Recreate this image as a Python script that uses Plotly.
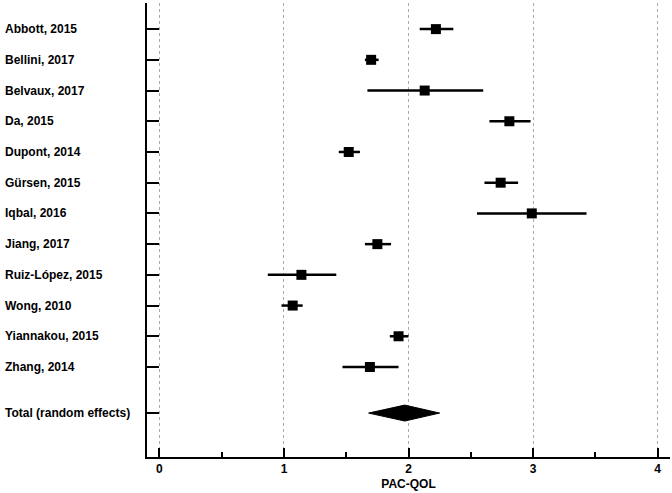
import plotly.graph_objects as go

# study data (PAC-QOL mean, 95% CI)
studies = ['Abbott, 2015', 'Bellini, 2017', 'Belvaux, 2017', 'Da, 2015',
           'Dupont, 2014', 'Gürsen, 2015', 'Iqbal, 2016', 'Jiang, 2017',
           'Ruiz-López, 2015', 'Wong, 2010', 'Yiannakou, 2015', 'Zhang, 2014']
est = [2.22, 1.70, 2.13, 2.81, 1.52, 2.74, 2.99, 1.75, 1.14, 1.07, 1.92, 1.69]
lo = [2.09, 1.65, 1.67, 2.65, 1.44, 2.61, 2.55, 1.65, 0.87, 0.98, 1.85, 1.47]
hi = [2.36, 1.76, 2.60, 2.98, 1.61, 2.88, 3.43, 1.86, 1.42, 1.15, 2.00, 1.92]

total_label = 'Total (random effects)'
total_est = 1.97
total_lo = 1.68
total_hi = 2.25

x_ticks = [0, 1, 2, 3, 4]

font_family = 'Liberation Sans, Arial, sans-serif'
rows = list(range(len(studies)))
total_row = len(studies) + 0.5

fig = go.Figure()

fig.add_trace(go.Scatter(
    x=est, y=rows, mode='markers',
    marker={'symbol': 'square', 'size': 10, 'color': 'black'},
    error_x={'type': 'data', 'symmetric': False,
             'array': [h - e for h, e in zip(hi, est)],
             'arrayminus': [e - l for e, l in zip(est, lo)],
             'color': 'black', 'thickness': 2.5, 'width': 0},
    showlegend=False, hoverinfo='skip',
))

# pooled estimate diamond
dh = 0.26
fig.add_trace(go.Scatter(
    x=[total_lo, total_est, total_hi, total_est, total_lo],
    y=[total_row, total_row - dh, total_row, total_row + dh, total_row],
    mode='lines', fill='toself', fillcolor='black',
    line={'color': 'black', 'width': 1},
    showlegend=False, hoverinfo='skip',
))

annotations = []
for r, name in zip(rows + [total_row], studies + [total_label]):
    annotations.append({
        'x': -0.2753, 'xref': 'paper', 'xanchor': 'left',
        'y': r, 'yref': 'y', 'yanchor': 'middle',
        'text': name, 'showarrow': False,
        'font': {'family': font_family, 'size': 12, 'color': 'black', 'weight': 'bold'},
    })

fig.update_layout(
    width=672, height=493,
    margin={'l': 147, 'r': 2, 't': 3, 'b': 36},
    paper_bgcolor='white', plot_bgcolor='white',
    annotations=annotations,
    xaxis={
        'range': [-0.1, 4.1],
        'tickvals': x_ticks,
        'showgrid': True, 'gridcolor': '#aaaaaa', 'griddash': 'dot', 'gridwidth': 1,
        'zeroline': False,
        'showline': True, 'linecolor': 'black', 'linewidth': 2,
        'ticks': 'inside', 'ticklen': 9, 'tickwidth': 2, 'tickcolor': 'black',
        'minor': {'dtick': 0.5, 'ticks': 'inside', 'ticklen': 5, 'tickwidth': 1.5,
                  'tickcolor': 'black', 'showgrid': False},
        'tickfont': {'family': font_family, 'size': 12, 'color': 'black', 'weight': 'bold'},
        'title': {'text': 'PAC-QOL', 'standoff': 4,
                  'font': {'family': font_family, 'size': 12, 'color': 'black', 'weight': 'bold'}},
        'automargin': False,
    },
    yaxis={
        'range': [13.93, -0.85],
        'tickvals': rows + [total_row],
        'showticklabels': False,
        'showgrid': False, 'zeroline': False,
        'showline': True, 'linecolor': 'black', 'linewidth': 2,
        'ticks': 'inside', 'ticklen': 12, 'tickwidth': 1.5, 'tickcolor': 'black',
        'automargin': False,
    },
)

# drop the page's default body margin so the figure sits at the window origin
fig.write_html('out.html', config={'displayModeBar': False},
               post_script="document.body.style.margin='0';")
